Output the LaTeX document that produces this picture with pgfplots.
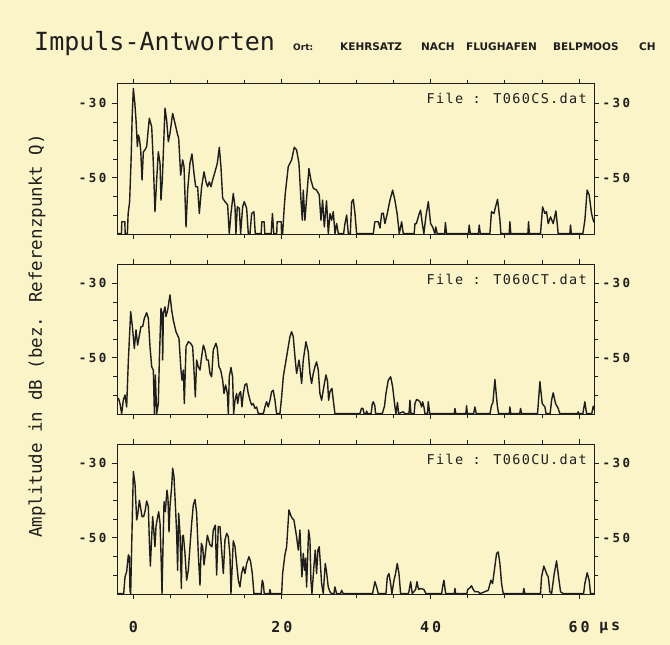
\documentclass[border=0pt]{standalone}
\usepackage{fontspec}
\setmainfont{DejaVu Sans Mono}
\usepackage{pgfplots}
\pgfplotsset{compat=1.18}

\definecolor{paper}{HTML}{FBF4C8}
\definecolor{ink}{HTML}{1E1E1E}

\newfontfamily\spacedmono[LetterSpace=20]{DejaVu Sans Mono}
\newfontfamily\filemono[LetterSpace=10]{DejaVu Sans Mono}
\newfontfamily\capsans{DejaVu Sans}
\newcommand\yfont{\spacedmono\bfseries\fontsize{12.5bp}{14bp}\selectfont}
\newcommand\xfont{\spacedmono\bfseries\fontsize{15bp}{17bp}\selectfont}
\newcommand\ffont{\filemono\fontsize{13.5bp}{16bp}\selectfont}

\pgfplotsset{
  geom/.style={
    scale only axis, width=477bp, height=150bp,
    xmin=-2.2, xmax=62, ymin=-65.1, ymax=-24.8,
    anchor=south west,
  },
  panel/.style={
    geom,
    xtick={0,20,40,60}, minor xtick={5,10,15,25,30,35,45,50,55},
    ytick={-50,-30}, minor ytick={-60,-55,-45,-40,-35},
    yticklabels={-50,-30}, xticklabels={},
    tick align=outside, major tick length=5bp, minor tick length=4bp,
    axis line style={line width=1bp, ink},
    tick style={line width=0.9bp, ink},
    yticklabel style={font=\yfont, anchor=east, xshift=-2bp, text=ink},
    xticklabel style={font=\xfont, anchor=base, yshift=-33bp, text=ink},
  },
  rightlabels/.style={
    geom, hide x axis, axis y line*=right,
    ytick={-50,-30}, yticklabels={-50,-30}, minor ytick={},
    major tick length=0pt, axis line style={draw=none},
    yticklabel style={font=\yfont, anchor=west, xshift=5bp, text=ink},
  },
  trace/.style={ink, line width=1.4bp, line join=round, mark=none},
}

\begin{document}
\begin{tikzpicture}
\path[use as bounding box] (0,0) rectangle (670bp,-645bp);
\fill[paper] (0,0) rectangle (670bp,-645bp);

% ---- panel 1: T060CS
\begin{axis}[panel, at={(117bp,-234bp)}]
\addplot[trace] coordinates {
(-2.2,-65) (-1.6,-65) (-1.55,-61.8) (-1.15,-61.8) (-1.1,-65) (-0.8,-65) (-0.7,-59.6) (-0.5,-56.4) (-0.3,-45) (-0.15,-33) (0,-26.0) (0.2,-30) (0.36,-34.5) (0.54,-41.6) (0.67,-38.5) (0.81,-39.4) (0.99,-42.5) (1.17,-50.6) (1.35,-43.0) (1.57,-42.5) (1.79,-41.6) (2.15,-34.0) (2.47,-36.3) (2.69,-46.1) (2.91,-59.1) (3.14,-50.6) (3.36,-43.0) (3.59,-46.1) (3.72,-56.0) (3.90,-50.6) (4.26,-31.3) (4.48,-34.5) (4.71,-40.3) (4.93,-38.1) (5.29,-32.7) (5.61,-35.4) (5.92,-38.1) (6.10,-39.4) (6.37,-49.3) (6.64,-45.2) (6.82,-47.0) (7.09,-63.2) (7.31,-53.3) (7.62,-46.1) (7.89,-43.6) (8.16,-48.8) (8.39,-52.4) (8.65,-52.4) (8.88,-59.6) (9.19,-52.4) (9.51,-48.4) (9.78,-51.1) (10.0,-52.4) (10.22,-51.1) (10.45,-52.4) (10.67,-50.6) (10.99,-48.4) (11.30,-46.1) (11.57,-41.8) (11.79,-47.0) (12.02,-55.5) (12.33,-56.4) (12.69,-57.3) (12.91,-65) (13.14,-59.6) (13.45,-54.2) (13.68,-57.8) (13.81,-65) (13.99,-57.8) (14.26,-58.2) (14.44,-65) (14.71,-57.8) (14.93,-56.4) (15.25,-58.2) (15.47,-65) (15.7,-65) (15.92,-59.6) (16.23,-59.1) (16.41,-65)
(17.2,-65) (17.3,-61.8) (17.6,-61.8) (17.7,-65) (18.55,-65) (18.72,-59.6) (18.9,-65) (19.3,-65) (19.35,-61.8) (19.9,-61.8) (19.95,-65)
(20.09,-65) (20.31,-57.8) (20.45,-54.2) (20.85,-47.0) (21.30,-45.2) (21.66,-41.8) (21.97,-42.5) (22.29,-46.1) (22.56,-56.0) (22.74,-61.4) (22.87,-53.3) (23.09,-61.4) (23.32,-55.5) (23.63,-47.5) (23.90,-50.6) (24.22,-52.8) (24.66,-53.3) (25.02,-54.6) (25.25,-61.4) (25.47,-56.0) (25.7,-63.2) (26.0,-56.2) (26.24,-65) (26.47,-59.6) (26.69,-61.4) (26.91,-59.1) (27.14,-65) (27.36,-62.3) (27.59,-65)
(28.3,-65) (28.48,-62.3) (28.71,-60.0) (28.93,-65) (29.2,-65) (29.38,-56.5) (29.6,-55.8) (29.83,-59.6) (30.05,-65)
(32.3,-65) (32.5,-61.8) (32.97,-61.8) (33.2,-63.5) (33.42,-59.6) (33.64,-59.5) (33.86,-62.3) (34.18,-59.6) (34.54,-56.0) (34.9,-53.3) (35.2,-56.0) (35.5,-59.6) (35.79,-65) (36.11,-61.8) (36.33,-65)
(37.8,-65) (37.9,-62.3) (38.1,-62.3) (38.48,-59.6) (38.66,-58.7) (38.89,-62.3) (39.1,-65) (39.4,-60) (39.7,-56.4) (40.01,-62.3) (40.28,-63.2) (40.59,-65) (40.7,-63.2) (40.9,-65)
(41.9,-65) (42.0,-62) (42.15,-65) (45.1,-65) (45.2,-62.7) (45.35,-65) (46.45,-65) (46.55,-62.7) (46.7,-65)
(47.99,-65) (48.2,-59.1) (48.53,-59.6) (48.75,-57.8) (49.02,-55.8) (49.34,-61.4) (49.47,-65) (50.58,-65) (50.68,-61.8) (50.8,-65) (53.1,-65) (53.19,-61.8) (53.3,-65)
(54.8,-65) (55.08,-57.8) (55.39,-59.6) (55.61,-59.1) (55.84,-62.3) (56.15,-60.5) (56.51,-62.3) (56.87,-58.9) (57.05,-62.3) (57.18,-65) (58.75,-65) (58.84,-62.7) (58.95,-65)
(60.5,-65) (60.77,-61.4) (61.08,-53.3) (61.35,-54.6) (61.67,-59.6) (61.9,-61.4) (62,-62)
};
\node[anchor=base east, inner sep=0, xshift=-7bp, yshift=-20bp, font=\ffont, text=ink] at (rel axis cs:1,1) {File : T060CS.dat};
\end{axis}
\begin{axis}[rightlabels, at={(117bp,-234bp)}]
\end{axis}

% ---- panel 2: T060CT
\begin{axis}[panel, at={(117bp,-414bp)}]
\addplot[trace] coordinates {
(-2.2,-60.9) (-2.0,-60.9) (-1.8,-62.3) (-1.57,-65) (-1.35,-61.4) (-1.12,-60.0) (-0.9,-63.2) (-0.67,-50.6) (-0.36,-37.6) (-0.13,-41.6) (0.13,-47.5) (0.36,-42.5) (0.58,-46.6) (0.81,-44.0) (1.03,-41.6) (1.26,-41.6) (1.48,-39.4) (1.79,-37.9) (2.02,-39.4) (2.24,-47.0) (2.47,-52.4) (2.69,-53.3) (2.83,-65) (2.96,-54.6) (3.14,-65) (3.36,-62.3) (3.50,-50.6) (3.72,-36.7) (3.86,-38.1) (3.95,-50.6) (4.04,-38.1) (4.26,-36.3) (4.39,-38.9) (4.62,-37.2) (4.93,-33.1) (5.16,-37.2) (5.38,-39.9) (5.74,-43.0) (6.14,-44.8) (6.41,-53.3) (6.55,-56.0) (6.73,-53.3) (6.86,-62.3) (7.09,-47.0) (7.40,-45.7) (7.71,-46.1) (7.98,-47.0) (8.16,-53.3) (8.34,-60.5) (8.52,-50.6) (8.74,-52.4) (8.97,-53.3) (9.19,-49.7) (9.42,-46.6) (9.64,-47.9) (9.87,-50.6) (10.09,-50.6) (10.31,-54.2) (10.54,-55.1) (10.76,-47.9) (11.12,-46.1) (11.30,-47.5) (11.52,-52.4) (11.75,-53.3) (12.02,-56.0) (12.20,-59.6) (12.42,-57.3) (12.65,-59.6) (12.78,-65) (12.91,-55.1) (13.14,-52.6) (13.36,-55.1) (13.50,-65) (13.68,-61.4) (13.90,-59.6) (14.04,-62.3) (14.26,-59.6) (14.44,-59.1) (14.62,-63.2) (14.80,-59.6) (15.02,-57.3) (15.25,-56.9) (15.47,-59.6) (15.70,-61.4) (15.92,-62.7) (16.14,-62.3) (16.37,-63.6) (16.59,-63.2) (16.82,-65)
(17.5,-65) (17.71,-63.2) (17.94,-61.8) (18.16,-63.2) (18.39,-61.4) (18.61,-59.1) (18.83,-58.7) (19.06,-61.4) (19.28,-65) (19.73,-65) (19.96,-60.5) (20.18,-55.1) (20.63,-49.7) (21.08,-44.3) (21.30,-43.0) (21.52,-44.3) (21.75,-49.7) (21.97,-54.2) (22.11,-52.8) (22.29,-50.6) (22.42,-52.4) (22.65,-56.9) (22.87,-50.6) (23.23,-45.7) (23.54,-48.4) (23.77,-54.2) (23.99,-56.9) (24.22,-54.2) (24.44,-52.4) (24.66,-51.1) (24.89,-53.3) (25.11,-59.6) (25.34,-61.4) (25.56,-58.7) (25.92,-54.6) (26.14,-56.4) (26.28,-61.4) (26.46,-59.1) (26.73,-58.2) (26.91,-61.4) (27.13,-65)
(30.5,-65) (30.7,-63.6) (30.9,-63.6) (31.05,-65) (31.3,-65) (31.4,-64.3) (31.5,-65) (32.0,-65) (32.15,-62.5) (32.3,-61.8) (32.5,-62.9) (32.6,-65) (33.5,-65) (33.64,-64.1) (33.8,-63) (34.0,-59.6) (34.31,-56.0) (34.63,-55.1) (34.9,-57.8) (35.21,-63.2) (35.35,-65) (35.55,-62) (35.7,-65) (36.33,-64.5) (36.5,-65) (37.1,-65) (37.23,-61.4) (37.36,-65) (37.8,-65) (37.9,-62.3) (38.12,-61.2) (38.35,-61.4) (38.57,-61.8) (38.8,-63.2) (38.93,-61.8) (39.11,-63.2) (39.25,-65) (39.6,-65) (39.69,-61.8) (39.9,-65)
(43.2,-65) (43.28,-63.6) (43.4,-65) (44.75,-65) (44.85,-62.9) (44.95,-65) (45.8,-65) (45.97,-63.2) (46.15,-65) (48.0,-65) (48.22,-62.7) (48.4,-62) (48.66,-55.8) (48.98,-62.7) (49.15,-65) (50.6,-65) (50.68,-63.2) (50.8,-65) (52.0,-65) (52.12,-63.6) (52.25,-65)
(54.4,-65) (54.72,-56.4) (55.03,-62.3) (55.39,-63.2) (55.55,-65) (56.1,-65) (56.29,-61.4) (56.51,-59.4) (56.83,-62.3) (57.18,-63.6) (57.4,-65) (59.8,-65) (59.87,-64.5) (60.0,-65) (60.5,-65) (60.77,-61.8) (61.0,-65) (61.7,-65) (61.9,-63) (62,-64)
};
\node[anchor=base east, inner sep=0, xshift=-7bp, yshift=-20bp, font=\ffont, text=ink] at (rel axis cs:1,1) {File : T060CT.dat};
\end{axis}
\begin{axis}[rightlabels, at={(117bp,-414bp)}]
\end{axis}

% ---- panel 3: T060CU
\begin{axis}[panel, at={(117bp,-594bp)}, xticklabels={0,20,40,60}]
\addplot[trace] coordinates {
(-2.2,-65) (-1.3,-65) (-1.12,-60.5) (-0.90,-59.1) (-0.67,-54.6) (-0.54,-55.1) (-0.45,-64.1) (-0.36,-65) (-0.2,-50) (0,-32.2) (0.22,-35.4) (0.45,-45.2) (0.58,-43.9) (0.81,-39.9) (0.99,-42.1) (1.17,-44.3) (1.39,-44.3) (1.61,-42.5) (1.79,-40.1) (2.02,-41.6) (2.15,-50.6) (2.29,-57.6) (2.47,-49.7) (2.60,-44.3) (2.78,-48.8) (2.91,-52.4) (3.05,-47.0) (3.23,-44.8) (3.41,-43.0) (3.59,-46.1) (3.72,-54.2) (3.86,-65) (3.99,-52.4) (4.13,-40.3) (4.30,-43.0) (4.53,-37.2) (4.66,-39.4) (4.80,-48.4) (4.93,-41.6) (5.16,-36.3) (5.29,-31.3) (5.47,-33.6) (5.65,-40.8) (5.83,-48.8) (5.96,-58.7) (6.10,-43.4) (6.28,-48.8) (6.46,-63.6) (6.59,-49.7) (6.73,-49.3) (6.95,-54.2) (7.17,-61.4) (7.40,-58.7) (7.62,-52.4) (7.85,-46.1) (8.07,-41.2) (8.30,-39.7) (8.52,-43.4) (8.74,-54.2) (8.97,-62.7) (9.15,-51.5) (9.33,-52.4) (9.51,-57.3) (9.69,-54.2) (9.96,-49.3) (10.13,-50.6) (10.31,-51.9) (10.58,-52.4) (10.76,-47.9) (11.03,-46.6) (11.21,-60.0) (11.43,-47.0) (11.66,-47.0) (11.88,-53.3) (12.11,-59.6) (12.33,-50.6) (12.56,-48.8) (12.78,-49.7) (13.00,-54.6) (13.14,-65) (13.45,-50.8) (13.68,-52.4) (13.90,-56.9) (14.13,-61.4) (14.35,-63.2) (14.57,-59.6) (14.80,-57.8) (15.02,-59.6) (15.25,-56.9) (15.56,-55.1) (15.78,-56.4) (16.01,-59.6) (16.23,-65)
(17.2,-65) (17.35,-61.4) (17.49,-62.3) (17.62,-65) (18.3,-65) (18.39,-63.9) (18.5,-65)
(19.96,-65) (20.09,-59.6) (20.40,-54.6) (20.63,-52.4) (20.94,-42.5) (21.17,-43.9) (21.39,-44.8) (21.61,-45.2) (21.97,-49.7) (22.20,-53.3) (22.42,-47.9) (22.56,-55.1) (22.69,-60.5) (22.87,-54.2) (23.05,-58.7) (23.18,-55.5) (23.32,-63.2) (23.59,-47.9) (23.77,-50.6) (23.90,-61.4) (24.04,-65) (24.30,-57.8) (24.48,-53.3) (24.66,-59.6) (24.84,-53.3) (25.02,-52.4) (25.20,-57.8) (25.34,-62.3) (25.56,-65) (25.83,-56.9) (26.0,-59.1) (26.23,-63.2) (26.46,-64.5) (26.68,-65) (27.0,-65) (27.13,-63.2) (27.35,-65) (27.9,-65) (28.03,-64.1) (28.25,-65)
(32.2,-65) (32.3,-63.9) (32.52,-61.8) (32.74,-63.2) (32.97,-65) (34.0,-65) (34.18,-60.5) (34.4,-59.6) (34.63,-62.3) (34.8,-65) (35.08,-61.4) (35.25,-60.0) (35.52,-56.9) (35.75,-59.6) (35.97,-65) (37.0,-65) (37.09,-64.5) (37.32,-61.8) (37.54,-65) (37.99,-63.9) (38.17,-61.8) (38.39,-63.9) (38.66,-63.6) (39.11,-63.9) (39.38,-65)
(41.5,-65) (41.62,-63.2) (41.8,-61.4) (42.03,-65) (43.2,-65) (43.28,-63.6) (43.38,-65) (44.9,-65) (44.99,-63.9) (45.21,-63.6) (45.52,-62.9) (45.75,-63.9) (45.97,-64.5) (46.42,-64.5) (46.65,-65)
(47.77,-64.1) (48.13,-61.4) (48.35,-62.3) (48.53,-59.6) (48.89,-54.2) (49.11,-53.8) (49.34,-57.0) (49.56,-62.3) (49.78,-65) (52.45,-65) (52.56,-63.6) (52.7,-65)
(54.8,-65) (54.94,-60.5) (55.25,-57.6) (55.61,-59.6) (55.84,-60.5) (56.06,-64.5) (56.29,-65) (56.65,-59.6) (56.96,-56.2) (57.23,-60.5) (57.5,-64.5) (57.86,-65)
(60.6,-65) (60.77,-62.3) (61.08,-59.4) (61.35,-61.4) (61.53,-65) (62,-65)
};
\node[anchor=base east, inner sep=0, xshift=-7bp, yshift=-20bp, font=\ffont, text=ink] at (rel axis cs:1,1) {File : T060CU.dat};
\end{axis}
\begin{axis}[rightlabels, at={(117bp,-594bp)}]
\end{axis}

% ---- texts around the panels
\node[anchor=base west, inner sep=0, text=ink, font=\fontsize{25bp}{30bp}\selectfont] at (34bp,-50bp) {Impuls-Antworten};
\node[anchor=base west, inner sep=0, text=ink, font=\capsans\bfseries\fontsize{9bp}{11bp}\selectfont] at (293bp,-50bp) {Ort:};
\begin{scope}[every node/.style={anchor=base west, inner sep=0, text=ink, font=\capsans\bfseries\fontsize{10.5bp}{12bp}\selectfont}]
\node at (340bp,-50bp) {KEHRSATZ};
\node at (421bp,-50bp) {NACH};
\node at (466bp,-50bp) {FLUGHAFEN};
\node at (553bp,-50bp) {BELPMOOS};
\node at (639bp,-50bp) {CH};
\end{scope}
\node[rotate=90, text=ink, font=\fontsize{17.5bp}{20bp}\selectfont] at (37bp,-336bp) {Amplitude in dB (bez. Referenzpunkt Q)};
\node[anchor=base west, inner sep=0, text=ink, font=\xfont] at (599bp,-630bp) {µs};
\end{tikzpicture}
\end{document}
